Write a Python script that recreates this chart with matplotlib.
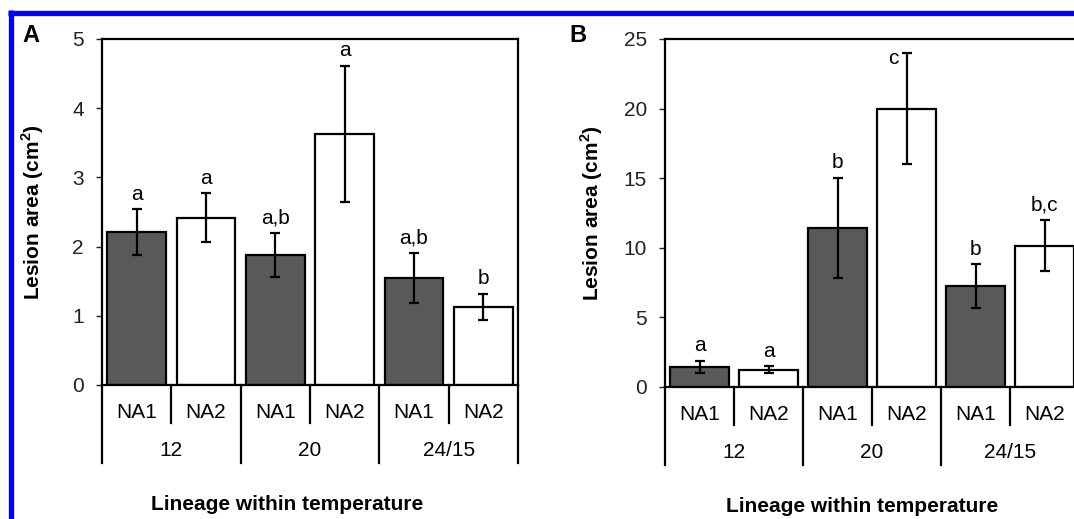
import numpy as np
import matplotlib.pyplot as plt
from matplotlib.lines import Line2D
import matplotlib.transforms as mtransforms

plt.rcParams['font.family'] = ['Liberation Sans', 'DejaVu Sans']

# ---- dados ----
lineages = ['NA1', 'NA2', 'NA1', 'NA2', 'NA1', 'NA2']
temps = ['12', '20', '24/15']

area_A = [2.21, 2.42, 1.88, 3.63, 1.55, 1.13]
err_A = [0.33, 0.35, 0.32, 0.98, 0.36, 0.19]
letras_A = ['a', 'a', 'a,b', 'a', 'a,b', 'b']

area_B = [1.45, 1.25, 11.45, 20.0, 7.25, 10.15]
err_B = [0.45, 0.25, 3.6, 4.0, 1.58, 1.85]
letras_B = ['a', 'a', 'b', 'c', 'b', 'b,c']

W, H = 1074, 519
fig = plt.figure(figsize=(W / 100, H / 100), dpi=100)
fig.patch.set_facecolor('white')

# borda azul (canto superior/esquerdo)
fig.add_artist(Line2D([8 / W, 1.0], [1 - 12.5 / H, 1 - 12.5 / H], color='#0000ff', lw=3.8,
                      transform=fig.transFigure, solid_capstyle='butt'))
fig.add_artist(Line2D([10.5 / W, 10.5 / W], [0, 1 - 10 / H], color='#0000ff', lw=3.8,
                      transform=fig.transFigure, solid_capstyle='butt'))


def painel(px_left, px_right, px_top, px_bottom, vals, errs, letras, ymax, ystep, letra_painel,
           px_letra, ylab_x, xlab_x, c_left=False):
    ax = fig.add_axes([px_left / W, 1 - px_bottom / H, (px_right - px_left) / W,
                       (px_bottom - px_top) / H])
    h = px_bottom - px_top
    x = np.arange(len(vals))
    cores = ['#595959' if l == 'NA1' else 'white' for l in lineages]
    ax.bar(x, vals, width=0.85, color=cores, edgecolor='black', linewidth=1.6, zorder=2)
    ax.errorbar(x, vals, yerr=errs, fmt='none', ecolor='black', elinewidth=1.6,
                capsize=3.5, capthick=1.6, zorder=3)
    for i in range(len(vals)):
        top = vals[i] + errs[i]
        if c_left and i == 3:
            ax.annotate(letras[i], (x[i], top), xytext=(-6, -4), textcoords='offset points',
                        ha='right', va='center', fontsize=15, annotation_clip=False)
        else:
            ax.annotate(letras[i], (x[i], top), xytext=(0, 4), textcoords='offset points',
                        ha='center', va='bottom', fontsize=15, annotation_clip=False)

    ax.set_xlim(-0.5, len(vals) - 0.5)
    ax.set_ylim(0, ymax)
    ax.set_yticks(np.arange(0, ymax + 0.1, ystep))
    ax.tick_params(axis='y', direction='out', length=4, width=1, pad=9, labelsize=15,
                   colors='#222222')
    ax.set_xticks([])
    for s in ax.spines.values():
        s.set_linewidth(1.6)

    # eixo x hierarquico
    tr = mtransforms.blended_transform_factory(ax.transData, ax.transAxes)
    y1 = -38 / h
    y2 = -78 / h
    for i in range(len(vals) + 1):
        xp = i - 0.5
        fundo = y2 if i % 2 == 0 else y1
        ax.add_line(Line2D([xp, xp], [0, fundo], color='black', lw=1.6, transform=tr,
                           clip_on=False))
    for i, l in enumerate(lineages):
        ax.text(i, -27 / h, l, transform=tr, ha='center', va='center', fontsize=15)
    for j, t in enumerate(temps):
        ax.text(2 * j + 0.5, -65 / h, t, transform=tr, ha='center', va='center', fontsize=15)

    ax.set_ylabel('Lesion area (cm$^\\mathregular{2}$)', fontsize=15, fontweight='bold')
    ax.yaxis.set_label_coords(ylab_x, 0.5)
    ax.text(xlab_x, -120 / h, 'Lineage within temperature', transform=ax.transAxes,
            ha='center', va='center', fontsize=15, fontweight='bold')
    fig.text(px_letra / W, 1 - 36 / H, letra_painel, ha='center', va='center', fontsize=17,
             fontweight='bold')
    return ax


axA = painel(102, 518, 39, 385, area_A, err_A, letras_A, 5, 1, 'A', 31, -0.135, 0.445)
axB = painel(665, 665 + 414, 39, 387, area_B, err_B, letras_B, 25, 5, 'B', 578, -0.145, 0.476,
             c_left=True)

fig.savefig('out.png', dpi=100)
